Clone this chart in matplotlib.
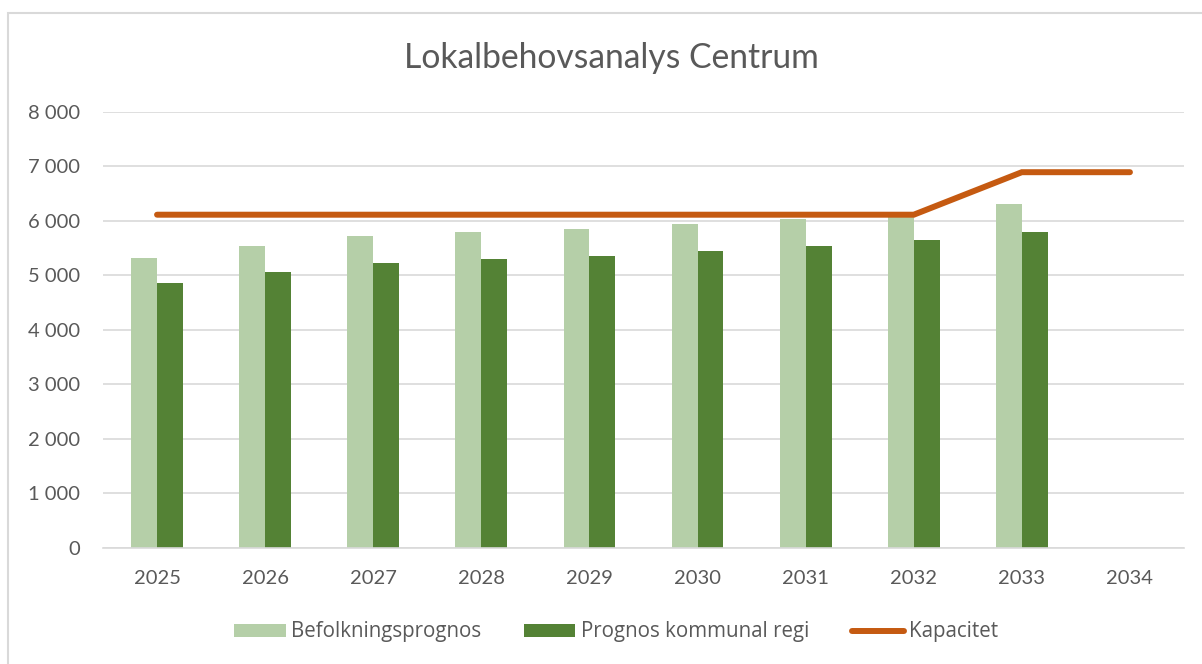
import numpy as np
import matplotlib.pyplot as plt
from matplotlib.patches import Rectangle, Patch
from matplotlib.lines import Line2D
from matplotlib.ticker import FuncFormatter

# ---------- Data ----------
years = ["2025", "2026", "2027", "2028", "2029", "2030", "2031", "2032", "2033", "2034"]
befolkning = [5310, 5530, 5715, 5790, 5840, 5935, 6030, 6090, 6300, np.nan]
kommunal = [4855, 5060, 5225, 5295, 5360, 5440, 5535, 5645, 5795, np.nan]
kapacitet = [6110, 6110, 6110, 6110, 6110, 6110, 6110, 6110, 6890, 6890]

LIGHT = "#b5cfa8"
DARK = "#548235"
ORANGE = "#c55a11"
TXT = "#595959"
GRID = "#d9d9d9"

plt.rcParams["font.family"] = ["Lato", "DejaVu Sans"]

W, H = 1202, 664
fig = plt.figure(figsize=(W / 100, H / 100), dpi=100)

# chart frame (only top/left visible in the crop)
fig.patches.append(Rectangle((8 / W, -0.1), 1.2, 1 - 13 / H + 0.1,
                             transform=fig.transFigure, fill=False,
                             edgecolor=GRID, linewidth=1.5))

ax = fig.add_axes([103 / W, 1 - 547.7 / H, (1184 - 103) / W, (547.7 - 111.7) / H])

x = np.arange(len(years))
bw = 0.24
ax.bar(x - bw / 2, befolkning, bw, color=LIGHT, zorder=2)
ax.bar(x + bw / 2, kommunal, bw, color=DARK, zorder=2)
ax.plot(x, kapacitet, color=ORANGE, linewidth=4.3, solid_capstyle="round",
        solid_joinstyle="miter", zorder=3)

ax.set_xlim(-0.5, len(years) - 0.5)
ax.set_ylim(0, 8000)
ax.set_yticks(range(0, 8001, 1000))
ax.yaxis.set_major_formatter(FuncFormatter(lambda v, p: f"{int(v):,}".replace(",", " ")))
ax.set_xticks(x)
ax.set_xticklabels(years)

ax.grid(axis="y", color=GRID, linewidth=1.2, zorder=0)
ax.set_axisbelow(True)
for s in ["top", "right", "left"]:
    ax.spines[s].set_visible(False)
ax.spines["bottom"].set_color(GRID)
ax.spines["bottom"].set_linewidth(1.2)
ax.tick_params(length=0, labelsize=14.5, colors=TXT)
ax.tick_params(axis="x", pad=16)
ax.tick_params(axis="y", pad=16.5)

fig.text(611 / W, 1 - 58 / H, "Lokalbehovsanalys Centrum", ha="center", va="center",
         fontsize=24.2, color=TXT)

handles = [
    Patch(facecolor=LIGHT, edgecolor="none"),
    Patch(facecolor=DARK, edgecolor="none"),
    Line2D([0], [0], color=ORANGE, linewidth=4.3, solid_capstyle="round"),
]
labels = ["Befolkningsprognos", "Prognos kommunal regi", "Kapacitet"]
leg = fig.legend(handles, labels, loc="center", bbox_to_anchor=(616 / W, 1 - 632 / H),
                 ncol=3, frameon=False, handlelength=2.5, handleheight=0.58,
                 handletextpad=0.25, columnspacing=2.1,
                 prop={"family": ["Open Sans", "DejaVu Sans"], "size": 14.8})
for t in leg.get_texts():
    t.set_color(TXT)

fig.savefig("out.png", dpi=100)
